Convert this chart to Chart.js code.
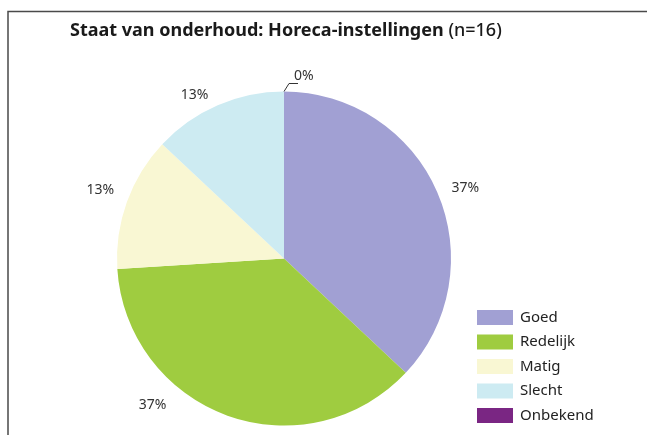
<!DOCTYPE html>
<html>
<head>
<meta charset="utf-8">
<script src="https://cdn.jsdelivr.net/npm/chart.js@4"></script>
<style>
  html, body { margin: 0; padding: 0; background: #fff; }
  #wrap { width: 647px; height: 435px; position: relative; }
</style>
</head>
<body>
<div id="wrap"><canvas id="pie"></canvas></div>
<script>
const categories = ['Goed', 'Redelijk', 'Matig', 'Slecht', 'Onbekend'];
const percents = [37, 37, 13, 13, 0];
const percentLabels = ['37%', '37%', '13%', '13%', '0%'];
const sliceColors = ['#a1a0d3', '#9fcc40', '#f9f7d3', '#cdebf2', '#7a2683'];

const titleBold = 'Staat van onderhoud: Horeca-instellingen';
const titleLight = ' (n=16)';

// nudges for the outside labels (px), per slice
const labelNudge = [[7, 5], [-67, -32], [-5, -4], [-14, 11], [0, 0]];
const fontFamily = '"Noto Sans", "Open Sans", sans-serif';

const framePlugin = {
  id: 'frame',
  beforeDraw(chart) {
    const c = chart.ctx;
    c.save();
    c.strokeStyle = '#4a4a4a';
    c.lineWidth = 1.5;
    c.beginPath();
    c.moveTo(8, 435);
    c.lineTo(8, 11.5);
    c.lineTo(647, 11.5);
    c.stroke();
    c.restore();
  }
};

const extrasPlugin = {
  id: 'extras',
  afterDraw(chart) {
    const c = chart.ctx;
    c.save();

    // title
    c.fillStyle = '#1a1a1a';
    c.textBaseline = 'alphabetic';
    c.textAlign = 'left';
    c.font = 'bold 18px ' + fontFamily;
    c.fillText(titleBold, 70, 36);
    const w = c.measureText(titleBold).width;
    c.font = '500 18px ' + fontFamily;
    c.fillText(titleLight, 70 + w, 36);

    // percentage labels
    const arcs = chart.getDatasetMeta(0).data;
    c.font = '14px ' + fontFamily;
    c.fillStyle = '#333';
    c.textAlign = 'center';
    c.textBaseline = 'middle';
    arcs.forEach((arc, i) => {
      const mid = (arc.startAngle + arc.endAngle) / 2;
      const r = arc.outerRadius;
      if (percents[i] === 0) {
        const ex = arc.x + Math.cos(mid) * r;
        const ey = arc.y + Math.sin(mid) * r;
        c.strokeStyle = '#333';
        c.lineWidth = 1;
        c.beginPath();
        c.moveTo(ex, ey);
        c.lineTo(ex + 5, ey - 8);
        c.lineTo(ex + 14, ey - 8);
        c.stroke();
        c.textAlign = 'left';
        c.fillText(percentLabels[i], ex + 10, ey - 15);
        c.textAlign = 'center';
        return;
      }
      const d = r + 23;
      const x = arc.x + Math.cos(mid) * d + labelNudge[i][0];
      const y = arc.y + Math.sin(mid) * d + labelNudge[i][1];
      c.fillText(percentLabels[i], x, y);
    });

    // legend
    c.textAlign = 'left';
    c.font = '15px ' + fontFamily;
    categories.forEach((name, i) => {
      const cy = 317.5 + i * 24.5;
      c.fillStyle = sliceColors[i];
      c.fillRect(477, cy - 7.5, 36, 15);
      c.fillStyle = '#222';
      c.fillText(name, 520, cy);
    });

    c.restore();
  }
};

new Chart(document.getElementById('pie'), {
  type: 'pie',
  data: {
    labels: categories,
    datasets: [{
      data: percents,
      backgroundColor: sliceColors,
      borderWidth: 0
    }]
  },
  options: {
    responsive: true,
    maintainAspectRatio: false,
    animation: false,
    layout: { padding: { left: 117, right: 196, top: 91, bottom: 9 } },
    plugins: {
      legend: { display: false },
      tooltip: { enabled: false }
    }
  },
  plugins: [framePlugin, extrasPlugin]
});
</script>
</body>
</html>
